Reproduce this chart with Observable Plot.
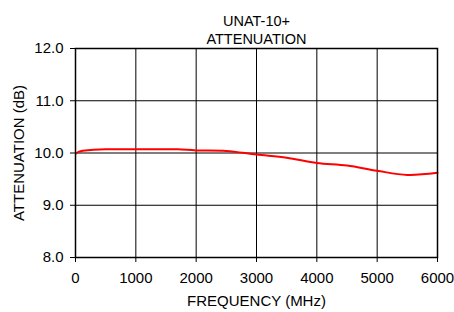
<!DOCTYPE html>
<html><head><meta charset="utf-8">
<script src="https://cdn.jsdelivr.net/npm/d3@7"></script>
<script src="https://cdn.jsdelivr.net/npm/@observablehq/plot@0.6"></script>
<style>
body{margin:0;background:#fff;}
svg{font-family:"Liberation Sans",Arial,sans-serif;}
</style>
</head><body><div id="chart"></div>
<script>
const freq = [10, 50, 100, 300, 500, 1000, 1500, 1700, 2000, 2500, 3000, 3500, 4000, 4500, 5000, 5500, 6000];
const atten = [9.99, 10.02, 10.04, 10.06, 10.07, 10.07, 10.07, 10.07, 10.05, 10.04, 9.97, 9.91, 9.81, 9.76, 9.66, 9.58, 9.62];
const xTicks = [0, 1000, 2000, 3000, 4000, 5000, 6000];
const yTicks = [8, 9, 10, 11, 12];
const titleText = "UNAT-10+\nATTENUATION";
const xLabel = "FREQUENCY (MHz)";
const yLabel = "ATTENUATION (dB)";

const data = freq.map((f, i) => ({f, a: atten[i]}));

const chart = Plot.plot({
  width: 454, height: 312,
  marginLeft: 75, marginRight: 17, marginTop: 48, marginBottom: 55,
  style: {fontFamily: "Liberation Sans, Arial, sans-serif", fontSize: "15px", color: "#000", background: "#fff"},
  x: {domain: [0, 6000]},
  y: {domain: [8, 12]},
  marks: [
    Plot.gridX(xTicks, {stroke: "#000", strokeOpacity: 1, strokeWidth: 1}),
    Plot.gridY(yTicks, {stroke: "#000", strokeOpacity: 1, strokeWidth: 1}),
    Plot.line(data, {x: "f", y: "a", stroke: "#ff0000", strokeWidth: 2, curve: "catmull-rom"}),
    Plot.frame({stroke: "#000", strokeWidth: 1.5}),
    Plot.axisX({ticks: xTicks, tickFormat: d => String(d), tickSize: 5, tickPadding: 10, fontSize: 15, label: null}),
    Plot.axisY({ticks: yTicks, tickFormat: d => d.toFixed(1), tickSize: 5, tickPadding: 7, fontSize: 15, label: null}),
    Plot.text([titleText], {frameAnchor: "top", dy: -35, fontSize: 14.5, lineHeight: 1.24, lineAnchor: "top"}),
    Plot.text([xLabel], {frameAnchor: "bottom", dy: 48, fontSize: 15}),
    Plot.text([yLabel], {frameAnchor: "left", dx: -56, rotate: -90, textAnchor: "middle", fontSize: 15})
  ]
});
document.getElementById("chart").appendChild(chart);
</script>
</body></html>
